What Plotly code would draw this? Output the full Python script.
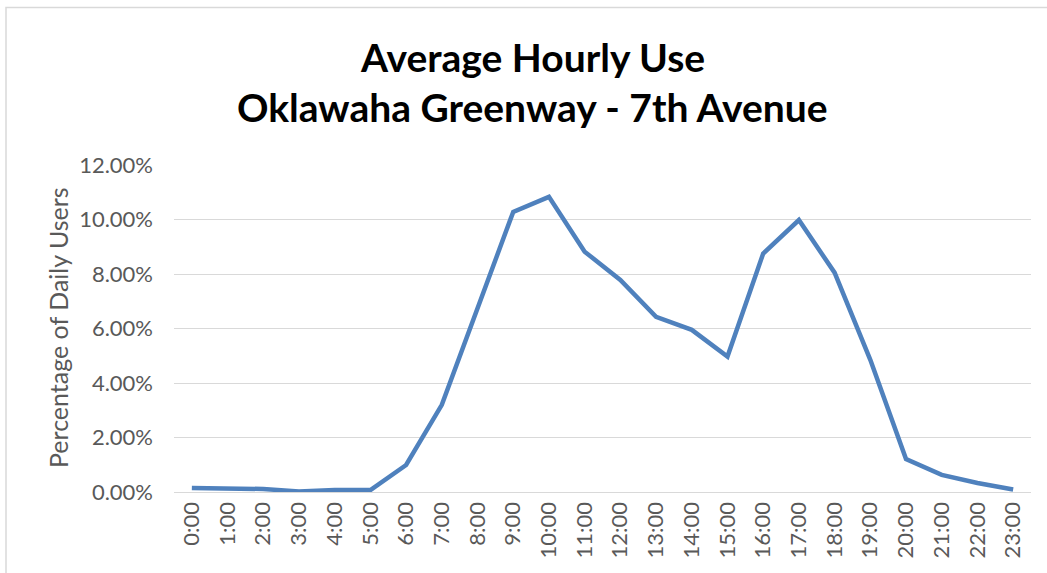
import plotly.graph_objects as go

hours = [f"{h}:00" for h in range(24)]
pct_users = [0.15, 0.11, 0.11, 0.02, 0.07, 0.07, 0.99, 3.2, 6.75, 10.28, 10.83, 8.82,
             7.78, 6.43, 5.95, 4.97, 8.75, 9.98, 8.05, 4.85, 1.21, 0.63, 0.33, 0.09]
y_ticks = [0, 2, 4, 6, 8, 10, 12]
y_tick_labels = [f"{v:.2f}%" for v in y_ticks]
title_lines = ["Average Hourly Use", "Oklawaha Greenway - 7th Avenue"]
y_title = "Percentage of Daily Users"

W, H = 1047, 573
L, T = 174, 165
R = W - 1031
B = H - 492
pw, ph = W - L - R, H - T - B

def px_x(x):
    return (x - L) / pw

def px_y(y):
    return (H - B - y) / ph

fig = go.Figure()
fig.add_trace(go.Scatter(x=hours, y=pct_users, mode="lines",
                         line=dict(color="#4F81BD", width=4.5), showlegend=False))

tick_font = dict(family="Lato, Calibri, sans-serif", size=22, color="#595959")
fig.update_layout(
    width=W, height=H,
    margin=dict(l=L, r=R, t=T, b=B),
    paper_bgcolor="white", plot_bgcolor="white",
    xaxis=dict(type="category", tickangle=-90, tickfont=tick_font, showgrid=False,
               showline=True, linecolor="#d9d9d9", linewidth=1.2, ticks="",
               range=[-0.5, 23.5]),
    yaxis=dict(range=[0, 12], tickvals=y_ticks, ticktext=y_tick_labels,
               tickfont=tick_font, showgrid=True, gridcolor="#d9d9d9", gridwidth=1.2,
               zeroline=False, showline=False, ticks="", ticklabelstandoff=20),
)
for line_text, yc in zip(title_lines, [57, 107]):
    fig.add_annotation(text=line_text, x=px_x(532), y=px_y(yc), xref="paper", yref="paper",
                       showarrow=False, xanchor="center", yanchor="middle",
                       font=dict(family="Lato, Calibri, sans-serif", size=39, color="black",
                                 weight="bold"))
fig.add_annotation(text=y_title, x=px_x(58), y=px_y(328), xref="paper", yref="paper",
                   showarrow=False, xanchor="center", yanchor="middle", textangle=-90,
                   font=dict(family="Lato, Calibri, sans-serif", size=25, color="#595959"))
fig.add_shape(type="rect", xref="paper", yref="paper",
              x0=px_x(6), y0=px_y(590), x1=px_x(1070), y1=px_y(7.5),
              line=dict(color="#d9d9d9", width=1.5), fillcolor="rgba(0,0,0,0)", layer="below")
fig.write_html("out.html", config={"displayModeBar": False},
               post_script="document.body.style.margin='0';")
